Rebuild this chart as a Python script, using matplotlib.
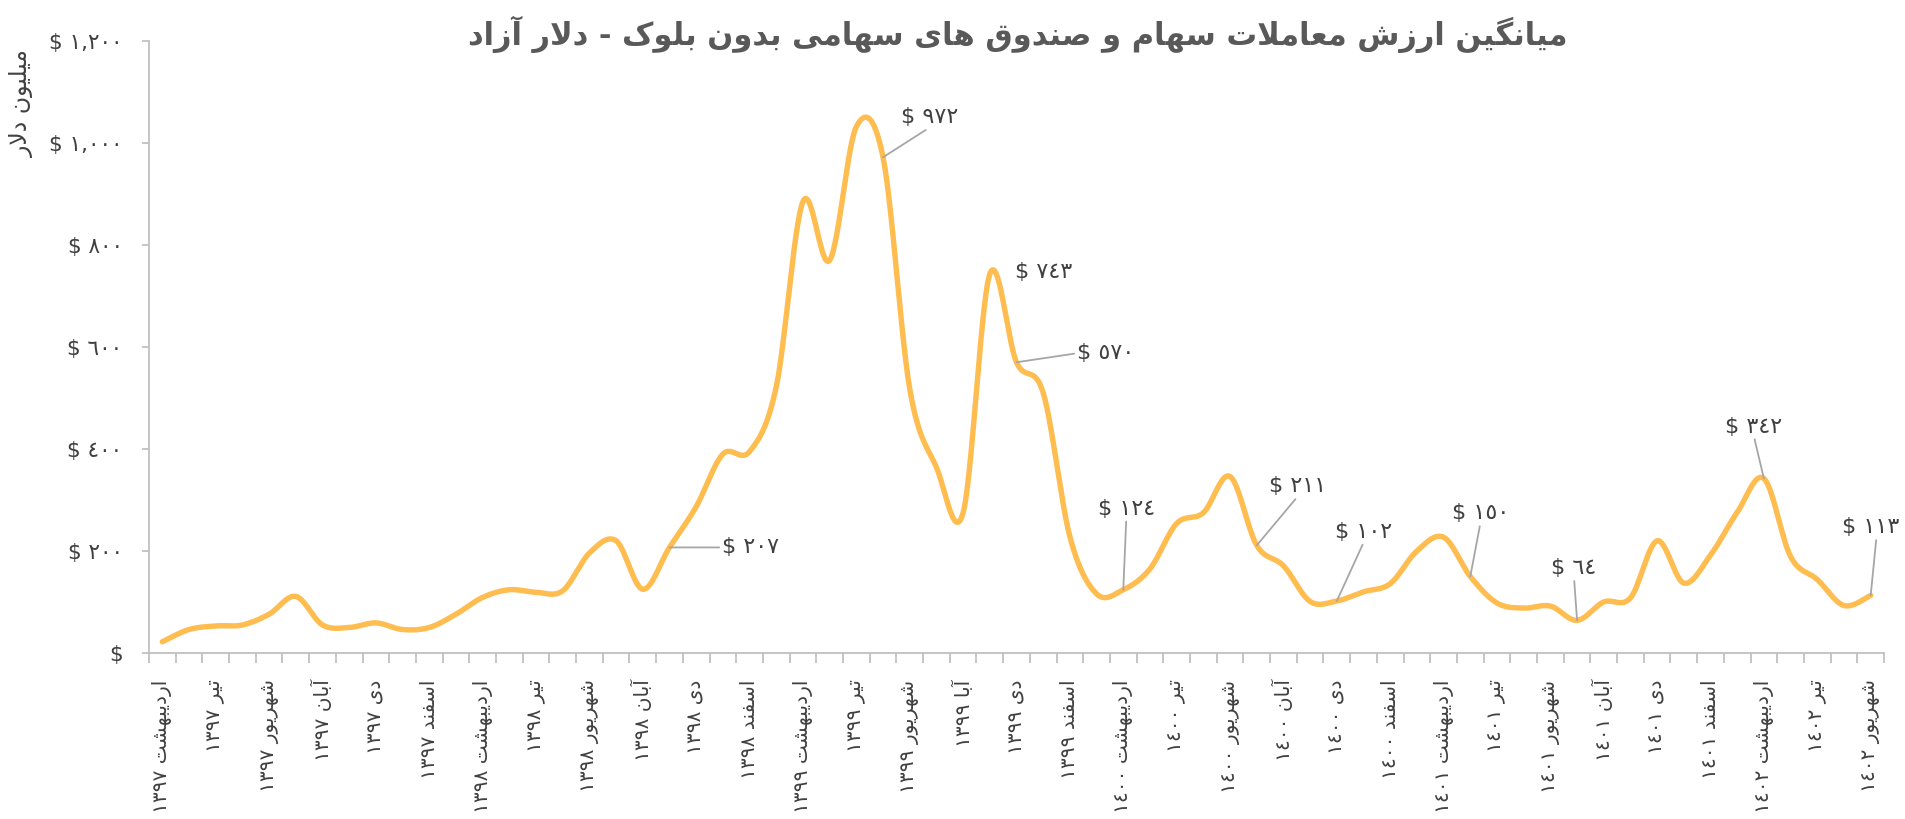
import re
import numpy as np
import matplotlib
matplotlib.use("Agg")
import matplotlib.pyplot as plt

# ---------------- data ----------------
values = [22, 46, 53, 55, 76, 111, 55, 50, 59, 46, 50, 76, 109, 124, 119, 122,
          196, 220, 125, 207, 287, 390, 395, 522, 885, 770, 1032, 972, 518, 364,
          275, 743, 570, 510, 228, 116, 124, 165, 254, 275, 346, 211, 171, 101,
          102, 120, 136, 200, 227, 150, 98, 88, 92, 64, 100, 108, 220, 137, 192,
          276, 342, 189, 144, 93, 113]

tick_labels = [
    "اردیبهشت ۱۳۹۷", "تیر ۱۳۹۷", "شهریور ۱۳۹۷", "آبان ۱۳۹۷", "دی ۱۳۹۷", "اسفند ۱۳۹۷",
    "اردیبهشت ۱۳۹۸", "تیر ۱۳۹۸", "شهریور ۱۳۹۸", "آبان ۱۳۹۸", "دی ۱۳۹۸", "اسفند ۱۳۹۸",
    "اردیبهشت ۱۳۹۹", "تیر ۱۳۹۹", "شهریور ۱۳۹۹", "آبا ۱۳۹۹", "دی ۱۳۹۹", "اسفند ۱۳۹۹",
    "اردیبهشت ۱۴۰۰", "تیر ۱۴۰۰", "شهریور ۱۴۰۰", "آبان ۱۴۰۰", "دی ۱۴۰۰", "اسفند ۱۴۰۰",
    "اردیبهشت ۱۴۰۱", "تیر ۱۴۰۱", "شهریور ۱۴۰۱", "آبان ۱۴۰۱", "دی ۱۴۰۱", "اسفند ۱۴۰۱",
    "اردیبهشت ۱۴۰۲", "تیر ۱۴۰۲", "شهریور ۱۴۰۲",
]

labelled_points = [19, 27, 31, 32, 36, 41, 44, 49, 53, 60, 64]

title_text = "میانگین ارزش معاملات سهام و صندوق های سهامی بدون بلوک - دلار آزاد"
ylabel_text = "میلیون دلار"

# ---------------- Persian shaping helpers ----------------
DUAL = {
    'ب': '\uFE8F\uFE90\uFE91\uFE92', 'پ': '\uFB56\uFB57\uFB58\uFB59',
    'ت': '\uFE95\uFE96\uFE97\uFE98', 'ث': '\uFE99\uFE9A\uFE9B\uFE9C',
    'ج': '\uFE9D\uFE9E\uFE9F\uFEA0', 'چ': '\uFB7A\uFB7B\uFB7C\uFB7D',
    'ح': '\uFEA1\uFEA2\uFEA3\uFEA4', 'خ': '\uFEA5\uFEA6\uFEA7\uFEA8',
    'س': '\uFEB1\uFEB2\uFEB3\uFEB4', 'ش': '\uFEB5\uFEB6\uFEB7\uFEB8',
    'ص': '\uFEB9\uFEBA\uFEBB\uFEBC', 'ض': '\uFEBD\uFEBE\uFEBF\uFEC0',
    'ط': '\uFEC1\uFEC2\uFEC3\uFEC4', 'ظ': '\uFEC5\uFEC6\uFEC7\uFEC8',
    'ع': '\uFEC9\uFECA\uFECB\uFECC', 'غ': '\uFECD\uFECE\uFECF\uFED0',
    'ف': '\uFED1\uFED2\uFED3\uFED4', 'ق': '\uFED5\uFED6\uFED7\uFED8',
    'ک': '\uFB8E\uFB8F\uFB90\uFB91', 'گ': '\uFB92\uFB93\uFB94\uFB95',
    'ل': '\uFEDD\uFEDE\uFEDF\uFEE0', 'م': '\uFEE1\uFEE2\uFEE3\uFEE4',
    'ن': '\uFEE5\uFEE6\uFEE7\uFEE8', 'ه': '\uFEE9\uFEEA\uFEEB\uFEEC',
    'ی': '\uFBFC\uFBFD\uFBFE\uFBFF',
}
RIGHT = {
    'ا': '\uFE8D\uFE8E', 'آ': '\uFE81\uFE82', 'د': '\uFEA9\uFEAA',
    'ذ': '\uFEAB\uFEAC', 'ر': '\uFEAD\uFEAE', 'ز': '\uFEAF\uFEB0',
    'ژ': '\uFB8A\uFB8B', 'و': '\uFEED\uFEEE',
}
LAMALEF = {'ا': '\uFEFB\uFEFC', 'آ': '\uFEF5\uFEF6'}
PERSIAN_TO_ARABIC_DIGITS = str.maketrans("۰۱۲۳۴۵۶۷۸۹0123456789",
                                         "٠١٢٣٤٥٦٧٨٩٠١٢٣٤٥٦٧٨٩")


def shape(s):
    out = []
    i, n = 0, len(s)
    while i < n:
        c = s[i]
        jp = i > 0 and s[i - 1] in DUAL
        if c == 'ل' and i + 1 < n and s[i + 1] in LAMALEF:
            lig = LAMALEF[s[i + 1]]
            out.append(lig[1] if jp else lig[0])
            i += 2
            continue
        if c in DUAL:
            jn = i + 1 < n and (s[i + 1] in DUAL or s[i + 1] in RIGHT)
            f = DUAL[c]
            out.append(f[3] if (jp and jn) else f[1] if jp else f[2] if jn else f[0])
        elif c in RIGHT:
            out.append(RIGHT[c][1] if jp else RIGHT[c][0])
        else:
            out.append(c)
        i += 1
    return ''.join(out)


def rtl(s):
    s = s.translate(PERSIAN_TO_ARABIC_DIGITS)
    t = shape(s)[::-1]
    return re.sub(r'[\u0660-\u0669][\u0660-\u0669,]*', lambda m: m.group(0)[::-1], t)


def money(v):
    if v == 0:
        return "$"
    return "$ " + f"{int(v):,}".translate(PERSIAN_TO_ARABIC_DIGITS)


# ---------------- smoothing (Excel-like Bezier through points) ----------------
def smooth(x, y, steps=30):
    x = np.asarray(x, float)
    y = np.asarray(y, float)
    xp = np.concatenate([[x[0]], x, [x[-1]]])
    yp = np.concatenate([[y[0]], y, [y[-1]]])
    xs, ys = [], []
    t = np.linspace(0, 1, steps, endpoint=False)
    for i in range(len(x) - 1):
        p0x, p0y = xp[i + 1], yp[i + 1]
        p3x, p3y = xp[i + 2], yp[i + 2]
        c1x = p0x + (xp[i + 2] - xp[i]) / 6
        c1y = p0y + (yp[i + 2] - yp[i]) / 6
        c2x = p3x - (xp[i + 3] - xp[i + 1]) / 6
        c2y = p3y - (yp[i + 3] - yp[i + 1]) / 6
        a = (1 - t) ** 3
        b = 3 * (1 - t) ** 2 * t
        c = 3 * (1 - t) * t ** 2
        d = t ** 3
        xs.append(a * p0x + b * c1x + c * c2x + d * p3x)
        ys.append(a * p0y + b * c1y + c * c2y + d * p3y)
    xs.append([x[-1]])
    ys.append([y[-1]])
    return np.concatenate(xs), np.concatenate(ys)


# ---------------- figure ----------------
plt.rcParams['font.family'] = ['DejaVu Sans']
TXT = '#404040'
AXC = '#C0C0C0'
LINE = '#FFBC4F'

fig = plt.figure(figsize=(19.05, 8.19), dpi=100)
ax = fig.add_axes([0.0782, 0.2027, 0.9108, 0.7473])

n = len(values)
xi = np.arange(n)
sx, sy = smooth(xi, values)
ax.plot(sx, sy, color=LINE, lw=3.9, solid_capstyle='round', solid_joinstyle='round', zorder=3)

ax.set_xlim(-0.5, n - 0.5)
ax.set_ylim(0, 1200)

for s in ['top', 'right']:
    ax.spines[s].set_visible(False)
for s in ['left', 'bottom']:
    ax.spines[s].set_color(AXC)
    ax.spines[s].set_linewidth(1.3)

yt = np.arange(0, 1201, 200)
ax.set_yticks(yt)
ax.set_yticklabels([money(v) for v in yt])
ax.tick_params(axis='y', direction='out', length=5, width=1.3, color=AXC,
               labelsize=15.5, labelcolor=TXT, pad=14)

ax.set_xticks(np.arange(0, n, 2))
ax.set_xticklabels([rtl(l) for l in tick_labels], rotation=90, va='top', ha='center')
ax.set_xticks(np.arange(-0.5, n, 1), minor=True)
ax.tick_params(axis='x', which='major', length=0, labelsize=14.5, labelcolor=TXT, pad=19)
ax.tick_params(axis='x', which='minor', direction='out', length=7, width=1.3, color=AXC)

# data labels with leader lines (offsets in pixels)
label_offsets = {
    19: (81, 0, (0, 0.5)),
    27: (47, 40, (0.5, 0)),
    31: (54, 2, None),
    32: (89, 9, (0, 0.5)),
    36: (3, 81, (0.5, 0)),
    41: (41, 59, (0.5, 0)),
    44: (27, 69, (0.5, 0)),
    49: (10, 63, (0.5, 0)),
    53: (-3, 52, (0.5, 0)),
    60: (-10, 52, (0.5, 0)),
    64: (0, 68, (0.6, 0)),
}
for i in labelled_points:
    dx, dy, rel = label_offsets[i]
    kw = {}
    if rel is not None:
        kw['arrowprops'] = dict(arrowstyle='-', color='#A6A6A6', lw=1.3,
                                shrinkA=0, shrinkB=0, relpos=rel)
    ax.annotate(money(values[i]), xy=(i, values[i]), xycoords='data',
                xytext=(dx * 0.72, dy * 0.72), textcoords='offset points',
                ha='center', va='center', fontsize=16, color=TXT,
                annotation_clip=False, zorder=4, **kw)

fig.text(0.5345, 0.958, rtl(title_text), ha='center', va='center',
         fontsize=22, fontweight='bold', color='#595959')
fig.text(0.0118, 0.874, rtl(ylabel_text), ha='center', va='center',
         rotation=90, fontsize=17, color=TXT)

fig.savefig('out.png', dpi=100)
